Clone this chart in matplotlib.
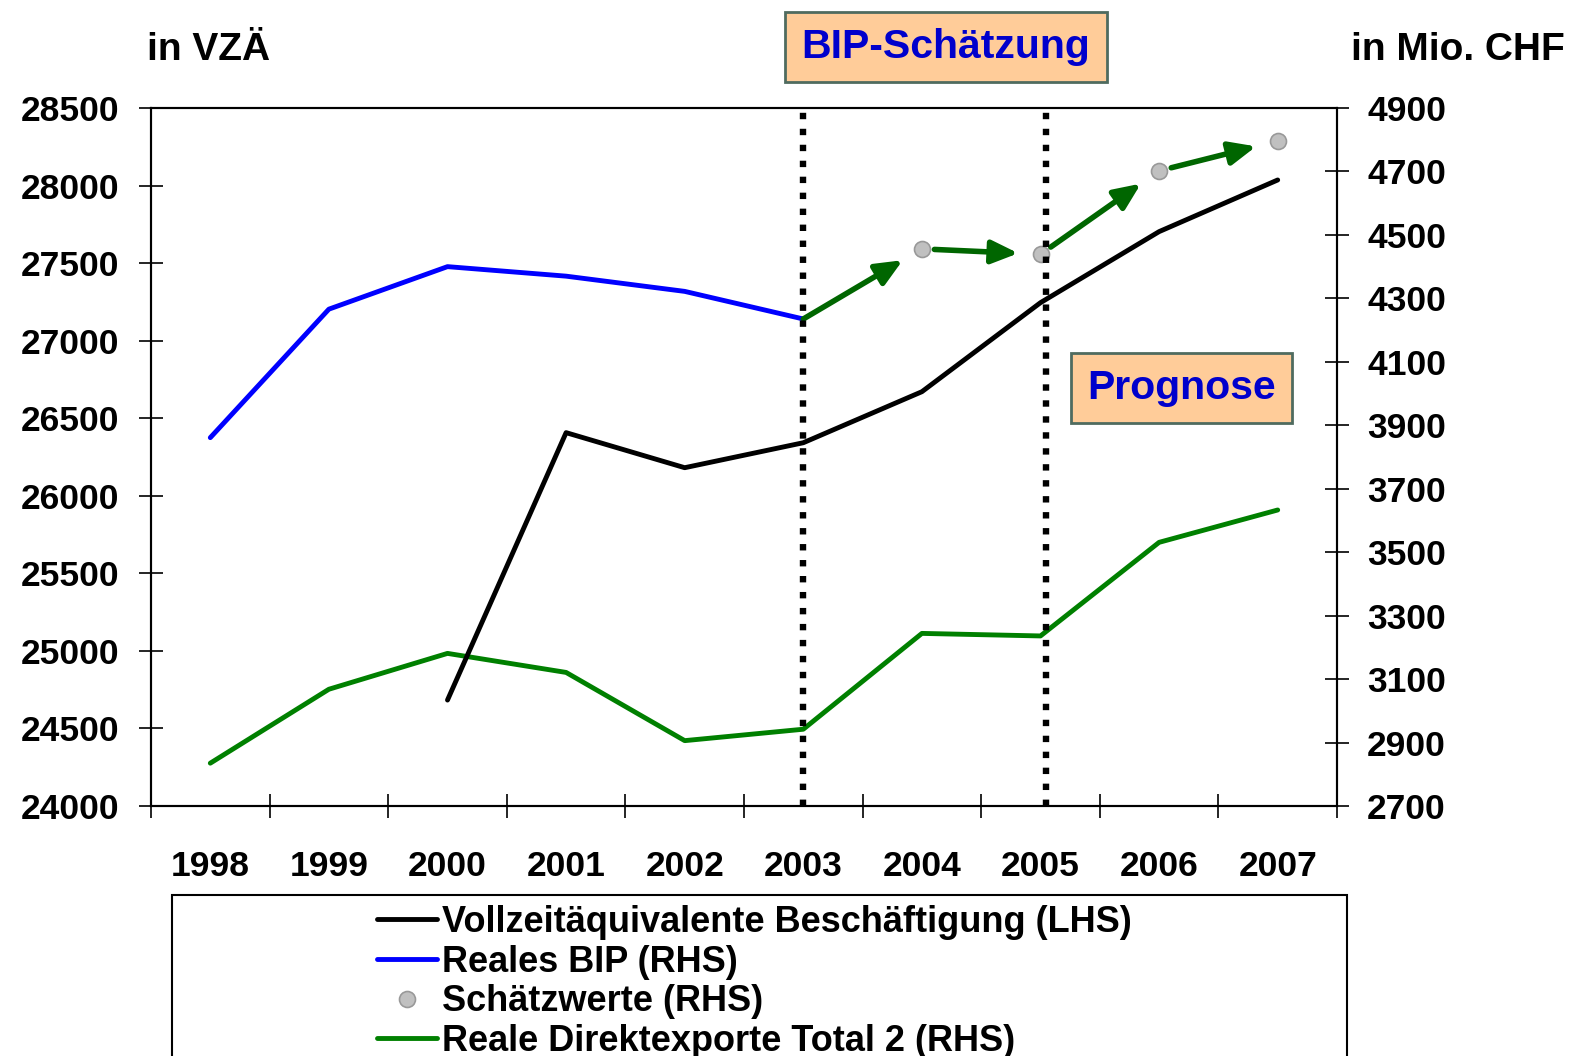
import matplotlib
matplotlib.use("Agg")
import numpy as np
import matplotlib.pyplot as plt
from matplotlib.patches import Rectangle, FancyArrowPatch

plt.rcParams["font.family"] = ["Liberation Sans", "DejaVu Sans"]
plt.rcParams["font.weight"] = "bold"

years = ["1998", "1999", "2000", "2001", "2002", "2003", "2004", "2005", "2006", "2007"]
# LHS: Vollzeitäquivalente Beschäftigung
vza = [np.nan, np.nan, 24683, 26407, 26181, 26342, 26671, 27245, 27703, 28036]
# RHS: Reales BIP, Schätzwerte, Reale Direktexporte
bip = [3861, 4266, 4400, 4370, 4322, 4235, np.nan, np.nan, np.nan, np.nan]
schaetz = [np.nan, np.nan, np.nan, np.nan, np.nan, np.nan, 4456, 4439, 4702, 4796]
exporte = [2835, 3068, 3181, 3121, 2906, 2942, 3244, 3236, 3531, 3633]

left_ticks = list(range(24000, 28501, 500))
right_ticks = list(range(2700, 4901, 200))

W, H = 1586, 1056
fig = plt.figure(figsize=(W / 100, H / 100), dpi=100)
ax = fig.add_axes([151 / W, 1 - 806 / H, 1186 / W, 698 / H])
ax2 = ax.twinx()

x = np.arange(len(years))

l_bip, = ax2.plot(x, bip, color="#0000FF", lw=3.5, solid_capstyle="round")
l_exp, = ax2.plot(x, exporte, color="#008000", lw=3.5, solid_capstyle="round")
l_sch, = ax2.plot(x, schaetz, ls="none", marker="o", ms=11.5, mfc="#C0C0C0", mec="#999999", mew=1.2)

# arrows from the last BIP value through the estimates
pts = [(5, bip[5])] + [(i, schaetz[i]) for i in range(6, 10)]
for k in range(len(pts) - 1):
    arr = FancyArrowPatch(pts[k], pts[k + 1], shrinkA=0 if k == 0 else 9, shrinkB=16,
                          arrowstyle="-|>,head_length=1.6,head_width=0.7", mutation_scale=10,
                          lw=4, color="#006600", zorder=3)
    ax2.add_patch(arr)

l_vza, = ax.plot(x, vza, color="black", lw=3.5, solid_capstyle="round", zorder=3)
for xv in [5, 7.05]:
    ax.axvline(xv, color="black", lw=4.6, ls=(0, (1, 1.5)), zorder=5)

ax.set_zorder(ax2.get_zorder() + 1)
ax.patch.set_visible(False)

ax.set_xlim(-0.5, 9.5)
ax.set_ylim(24000, 28500)
ax2.set_ylim(2700, 4900)
ax.set_yticks(left_ticks)
ax2.set_yticks(right_ticks)
ax.set_xticks(x)
ax.set_xticklabels(years)
ax.set_xticks(np.arange(-0.5, 10, 1), minor=True)

ax.tick_params(axis="x", which="major", length=0, pad=32, labelsize=25.5)
ax.tick_params(axis="x", which="minor", direction="inout", length=17.3, width=1.2)
ax.tick_params(axis="y", direction="inout", length=17.3, width=1.2, pad=14, labelsize=25.5)
ax2.tick_params(axis="y", direction="inout", length=17.3, width=1.2, pad=13, labelsize=25.5)
for a in (ax, ax2):
    for s in a.spines.values():
        s.set_linewidth(1.5)

fig.text(146.7 / W, 1 - 60 / H, "in VZÄ", fontsize=28, ha="left", va="baseline")
fig.text(1565 / W, 1 - 60 / H, "in Mio. CHF", fontsize=28, ha="right", va="baseline")

box = dict(boxstyle="square,pad=0.4", fc="#FFCC99", ec="#4F6B5F", lw=2)
fig.text(946 / W, 1 - 47 / H, "BIP-Schätzung", fontsize=29.5, color="#0000CC",
         ha="center", va="center", bbox=box)
fig.text(1181.5 / W, 1 - 388 / H, "Prognose", fontsize=29.5, color="#0000CC",
         ha="center", va="center", bbox=box)

labels = ["Vollzeitäquivalente Beschäftigung (LHS)", "Reales BIP (RHS)",
          "Schätzwerte (RHS)", "Reale Direktexporte Total 2 (RHS)"]
fig.legend([l_vza, l_bip, l_sch, l_exp], labels, loc="upper left",
           bbox_to_anchor=(377 / W, 1 - 905 / H), bbox_transform=fig.transFigure,
           frameon=False, fontsize=26, handlelength=1.65, handletextpad=0.14,
           labelspacing=0.13, borderpad=0, borderaxespad=0)
fig.patches.append(Rectangle((172 / W, -20 / H), (1347 - 172) / W, (1076 - 895) / H,
                             transform=fig.transFigure, fill=False, lw=1.5, ec="black"))

fig.savefig("out.png", dpi=100)
